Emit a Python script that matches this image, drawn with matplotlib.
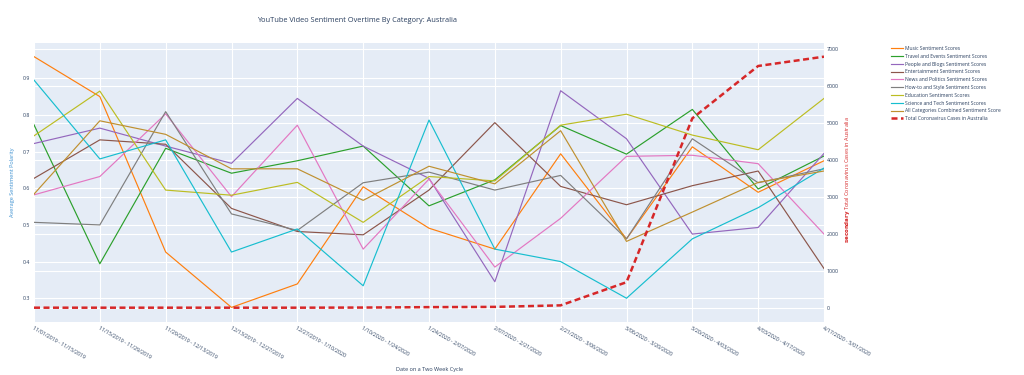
import matplotlib
matplotlib.use('Agg')
import matplotlib.pyplot as plt
import numpy as np

plt.rcParams['font.family'] = ['Open Sans', 'DejaVu Sans']

# two week periods
periods = ['11/01/2019 - 11/15/2019', '11/15/2019 - 11/29/2019', '11/29/2019 - 12/13/2019',
           '12/13/2019 - 12/27/2019', '12/27/2019 - 1/10/2020', '1/10/2020 - 1/24/2020',
           '1/24/2020 - 2/07/2020', '2/07/2020 - 2/21/2020', '2/21/2020 - 3/06/2020',
           '3/06/2020 - 3/20/2020', '3/20/2020 - 4/03/2020', '4/03/2020 - 4/17/2020',
           '4/17/2020 - 5/01/2020']

music = [0.959, 0.850, 0.426, 0.275, 0.339, 0.604, 0.491, 0.434, 0.694, 0.462, 0.713, 0.589, 0.675]
travel = [0.773, 0.394, 0.709, 0.641, 0.675, 0.715, 0.552, 0.623, 0.771, 0.693, 0.815, 0.598, 0.688]
people = [0.722, 0.764, 0.715, 0.668, 0.845, 0.715, 0.627, 0.345, 0.866, 0.735, 0.475, 0.493, 0.695]
entertainment = [0.627, 0.732, 0.720, 0.545, 0.482, 0.473, 0.595, 0.779, 0.605, 0.555, 0.607, 0.647, 0.381]
news = [0.582, 0.632, 0.803, 0.577, 0.772, 0.434, 0.625, 0.385, 0.518, 0.687, 0.690, 0.667, 0.475]
howto = [0.507, 0.500, 0.809, 0.530, 0.485, 0.615, 0.644, 0.595, 0.635, 0.462, 0.735, 0.615, 0.653]
education = [0.743, 0.865, 0.595, 0.581, 0.616, 0.507, 0.632, 0.620, 0.772, 0.802, 0.745, 0.705, 0.845]
science = [0.895, 0.680, 0.732, 0.426, 0.489, 0.334, 0.786, 0.434, 0.400, 0.300, 0.462, 0.547, 0.655]
all_cats = [0.584, 0.784, 0.747, 0.653, 0.653, 0.567, 0.660, 0.612, 0.757, 0.455, 0.535, 0.616, 0.647]
cases = [0, 0, 0, 0, 0, 4, 15, 22, 63, 690, 5124, 6540, 6792]

series = [
    ('Music Sentiment Scores', music, '#ff7f0e'),
    ('Travel and Events Sentiment Scores', travel, '#2ca02c'),
    ('People and Blogs Sentiment Scores', people, '#9467bd'),
    ('Entertainment Sentiment Scores', entertainment, '#8c564b'),
    ('News and Politics Sentiment Scores', news, '#e377c2'),
    ('How-to and Style Sentiment Scores', howto, '#7f7f7f'),
    ('Education Sentiment Scores', education, '#bcbd22'),
    ('Science and Tech Sentiment Scores', science, '#17becf'),
    ('All Categories Combined Sentiment Score', all_cats, '#bf9030'),
]

txt = '#2a3f5f'
bg = '#e5ecf6'

fig = plt.figure(figsize=(10.24, 3.75), dpi=100)
ax = fig.add_axes([34 / 1024, 1 - 321.7 / 375, 790 / 1024, 279 / 375])
ax.set_facecolor(bg)
x = np.arange(len(periods))

lo1, hi1 = 0.236, 0.997
lo2, hi2 = -379, 7170
ax.set_xlim(0, len(periods) - 1)
ax.set_ylim(lo1, hi1)

# gridlines for both axes under the traces
for v in np.arange(0.3, 0.95, 0.1):
    ax.axhline(v, color='white', lw=0.8, zorder=0)
for v in range(0, 8000, 1000):
    ax.axhline(lo1 + (v - lo2) / (hi2 - lo2) * (hi1 - lo1), color='white', lw=0.8, zorder=0)
for xi in x:
    ax.axvline(xi, color='white', lw=0.8, zorder=0)

handles = []
for name, vals, col in series:
    h, = ax.plot(x, vals, color=col, lw=0.85, label=name)
    handles.append(h)

ax2 = ax.twinx()
ax2.set_ylim(lo2, hi2)
h, = ax2.plot(x, cases, color='#d62728', lw=1.8, dashes=(2.4, 1.4),
              label='Total Coronavirus Cases in Australia')
handles.append(h)

for a in (ax, ax2):
    for s in a.spines.values():
        s.set_visible(False)
    a.tick_params(length=0, labelsize=3.8, labelcolor=txt)

ax.set_yticks(np.arange(0.3, 0.95, 0.1))
ax.set_yticklabels(['0.3', '0.4', '0.5', '0.6', '0.7', '0.8', '0.9'])
ax.tick_params(axis='y', pad=3)
ax2.set_yticks(range(0, 8000, 1000))
ax2.tick_params(axis='y', pad=2)

ax.set_xticks(x)
ax.set_xticklabels(periods, rotation=-30, ha='left', va='top', rotation_mode='anchor')
ax.tick_params(axis='x', pad=3)

fig.text(430 / 1024, 1 - 369 / 375, 'Date on a Two Week Cycle', fontsize=4, color=txt,
         ha='center', va='center')
fig.text(13 / 1024, 1 - 182 / 375, 'Average Sentiment Polarity', fontsize=4, color='#3a8fd0',
         rotation=90, ha='center', va='center')
fig.text(847 / 1024, 1 - 180 / 375, r'$\bf{secondary}$ Total Coronavirus Cases in Australia',
         fontsize=4, color='#d62728', rotation=90, ha='center', va='center')

fig.text(357 / 1024, 1 - 20 / 375, 'YouTube Video Sentiment Overtime By Category: Australia',
         fontsize=5.3, color=txt, ha='center', va='center')

leg = fig.legend(handles=handles, loc='upper left', bbox_to_anchor=(891 / 1024, 1 - 46 / 375),
                 frameon=False, fontsize=3.6, handlelength=2.3, handletextpad=0.5,
                 labelspacing=0.56, borderaxespad=0, borderpad=0)
for t in leg.get_texts():
    t.set_color(txt)

fig.savefig('out.png', dpi=100)
